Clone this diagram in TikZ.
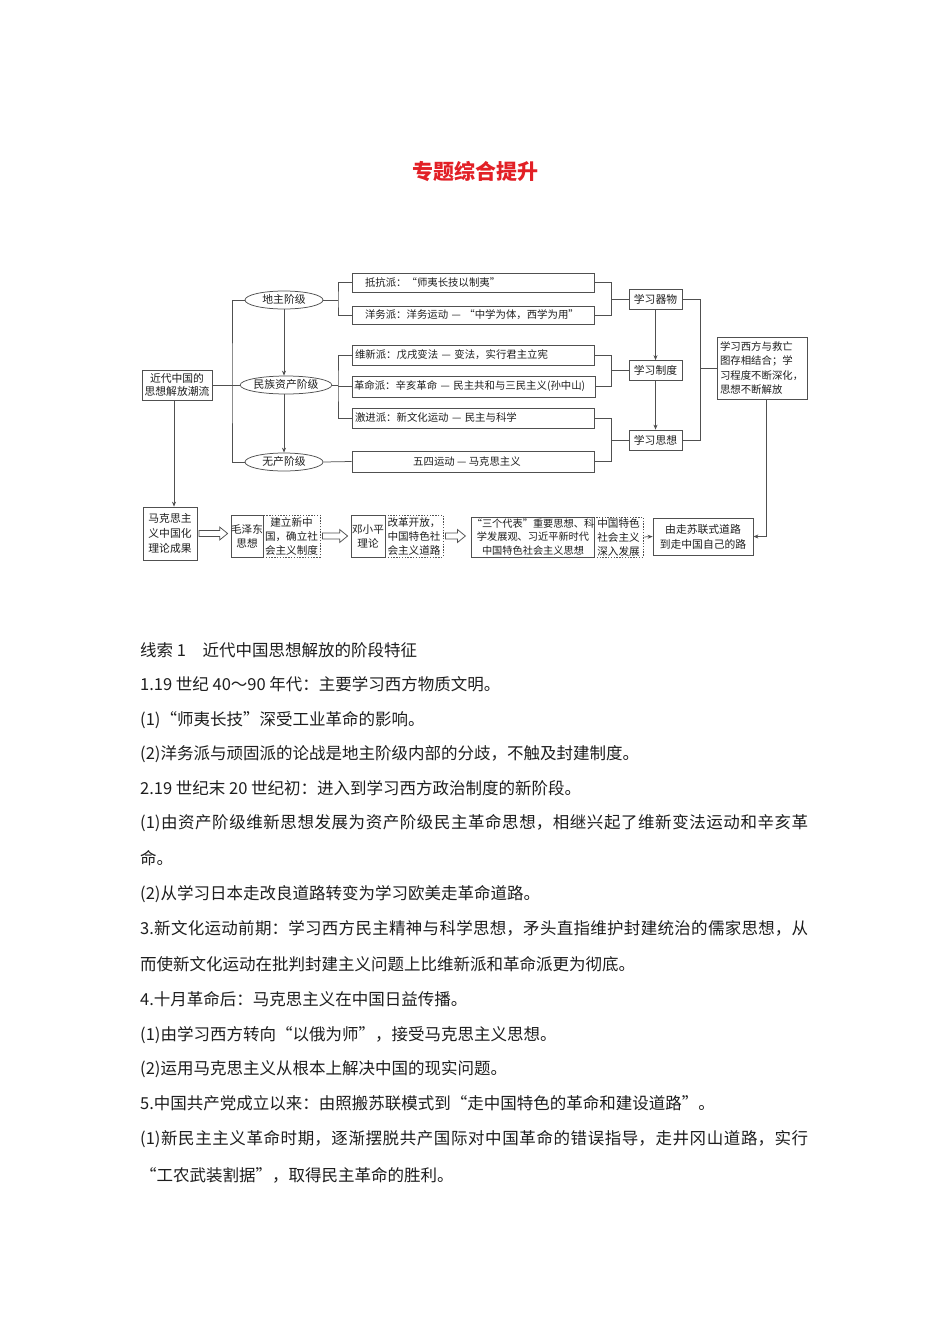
\documentclass[tikz,border=0pt]{standalone}
\usepackage{fontspec}
\setmainfont{Noto Sans CJK SC}
\usetikzlibrary{arrows.meta,shapes.geometric,calc}
\XeTeXlinebreaklocale "zh"
\XeTeXlinebreakskip=0pt plus 4pt
\definecolor{lc}{RGB}{80,80,80}
\definecolor{tc}{RGB}{30,30,30}
\definecolor{titlered}{RGB}{226,32,38}
\newcommand\fullline[1]{\parbox[b]{668pt}{\parfillskip=0pt\relax #1}}
\tikzset{
  ln/.style={draw=lc, line width=0.75pt},
  arr/.style={ln, -{Stealth[length=5pt,width=4pt]}},
  bx/.style={draw=lc, line width=0.75pt, rectangle, inner ysep=0pt, text=tc, font=\fontsize{10.4}{12}\selectfont},
  lb/.style={bx, minimum width=53pt, minimum height=20pt, inner xsep=0pt, font=\fontsize{10.8}{12}\selectfont},
  el/.style={ellipse, draw=lc, line width=0.75pt, inner sep=0pt, text height=8pt, text depth=1pt, text=tc, font=\fontsize{10.8}{12}\selectfont, minimum height=18pt},
  mb/.style={bx, inner xsep=0pt, align=center, font=\fontsize{10.6}{14}\selectfont},
  db/.style={mb, draw=lc, dash pattern=on 1.4pt off 1.4pt},
  bt/.style={anchor=base west, inner sep=0pt, text=tc, font=\fontsize{16.5}{20}\selectfont},
}
% hollow block arrow between two anchors
\newcommand\blockarrow[2]{%
  \draw[ln, line join=miter] let \p1=(#1), \p2=(#2) in
    (\x1,\y1+3pt) -- (\x2-8pt,\y1+3pt) -- (\x2-8pt,\y1+6.5pt) -- (\x2,\y1)
    -- (\x2-8pt,\y1-6.5pt) -- (\x2-8pt,\y1-3pt) -- (\x1,\y1-3pt) -- cycle;}
\begin{document}
\begin{tikzpicture}[x=1pt,y=-1pt]
\useasboundingbox[fill=white] (0,0) rectangle (950,1344);

% title
\node (title) at (475,171) [font=\fontsize{21}{24}\selectfont\bfseries, text=titlered] {专题综合提升};

% root and ellipses
\node (root) at (177,385) [bx, minimum width=70pt, minimum height=30pt, inner xsep=0pt, align=center, font=\fontsize{10.8}{13}\selectfont] {近代中国的\\思想解放潮流};
\node (e1) at (284,300) [el, minimum width=78pt] {地主阶级};
\node (e2) at (286,385) [el, minimum width=82pt] {民族资产阶级};
\node (e3) at (284,462) [el, minimum width=78pt] {无产阶级};

% branch boxes
\node (b1) at (473,282.5) [bx, minimum height=19pt, inner xsep=13pt, text width=216pt, align=left] {抵抗派：“师夷长技以制夷”};
\node (b2) at (473,315) [bx, minimum height=18pt, inner xsep=13pt, text width=216pt, align=left] {洋务派：洋务运动 — “中学为体，西学为用”};
\node (b3) at (473,355) [bx, minimum height=20pt, inner xsep=3pt, text width=236pt, align=left] {维新派：戊戌变法 — 变法，实行君主立宪};
\node (b4) at (473.5,386.5) [bx, minimum height=21pt, inner xsep=2pt, text width=239pt, align=left] {革命派：辛亥革命 — 民主共和与三民主义(孙中山)};
\node (b5) at (473,418) [bx, minimum height=20pt, inner xsep=3pt, text width=236pt, align=left] {激进派：新文化运动 — 民主与科学};
\node (b6) at (473,461.5) [bx, minimum height=21pt, inner xsep=0pt, minimum width=242pt] {\hspace{-12pt}五四运动 — 马克思主义};

% learning boxes
\node (l1) at (655.5,299) [lb] {学习器物};
\node (l2) at (655.5,370.5) [lb] {学习制度};
\node (l3) at (655.5,440) [lb] {学习思想};

% summary
\node (sum) at (762,368) [bx, minimum width=90pt, minimum height=62pt, inner xsep=3pt, text width=84pt, align=left, font=\fontsize{10.4}{14.5}\selectfont] {学习西方与救亡\\图存相结合；学\\习程度不断深化，\\思想不断解放};

% bottom row
\node (m1) at (170,533.5) [mb, minimum width=54pt, minimum height=53pt, font=\fontsize{10.8}{15}\selectfont] {马克思主\\义中国化\\理论成果};
\node (a1) at (247,536) [mb, minimum width=32pt, minimum height=42pt] {毛泽东\\思想};
\node (a1d) at (291.5,536) [db, minimum width=57pt, minimum height=42pt] {建立新中\\国，确立社\\会主义制度};
\node (bb) at (368,536) [mb, minimum width=34pt, minimum height=42pt] {邓小平\\理论};
\node (bbd) at (414,536) [db, minimum width=58pt, minimum height=42pt] {改革开放，\\中国特色社\\会主义道路};
\node (c1) at (533,537) [mb, minimum width=122pt, minimum height=40pt, font=\fontsize{10.2}{13.5}\selectfont] {“三个代表”重要思想、科\\学发展观、习近平新时代\\中国特色社会主义思想};
\node (c1d) at (618.5,537) [db, minimum width=49pt, minimum height=40pt] {中国特色\\社会主义\\深入发展};
\node (fin) at (703,536.5) [mb, minimum width=100pt, minimum height=37pt, font=\fontsize{10.8}{15}\selectfont] {由走苏联式道路\\到走中国自己的路};

% helper coordinates
\coordinate (r0) at (232,385);
\coordinate (k1) at (338,300);
\coordinate (k2) at (338,385);
\coordinate (q1) at (611,299);
\coordinate (q2) at (611,370.5);
\coordinate (q3) at (611,440);
\coordinate (p) at (700,368);
\coordinate (s) at (766,536.5);
\coordinate (rd) at (174,450);

% root bracket
\draw[ln] (root.east) -- (e2.west);
\draw[ln] (e1.west) -| (r0) |- (e3.west);
% ellipse arrows
\draw[arr] (e1.south) -- (e1.south |- e2.north);
\draw[arr] (e2.south -| e1.south) -- (e3.north);
% ellipse to branch brackets
\draw[ln] (e1.east) -- (k1);
\draw[ln] (b1.west) -| (k1) |- (b2.west);
\draw[ln] (e2.east) -- (k2);
\draw[ln] (b3.west) -| (k2) |- (b5.west);
\draw[ln] (k2 |- b4.west) -- (b4.west);
\draw[ln] (e3.east) -- (b6.west);
% branch to learning brackets
\draw[ln] (b1.east) -- (b1.east -| q1) -- (b2.east -| q1) -- (b2.east);
\draw[ln] (q1) -- (l1.west);
\draw[ln] (b3.east) -- (b3.east -| q2) -- (b4.east -| q2) -- (b4.east);
\draw[ln] (q2) -- (l2.west);
\draw[ln] (b5.east) -- (b5.east -| q3) -- (b6.east -| q3) -- (b6.east);
\draw[ln] (q3) -- (l3.west);
% learning arrows
\draw[arr] (l1.south) -- (l2.north);
\draw[arr] (l2.south) -- (l3.north);
% learning to summary
\draw[ln] (l1.east) -- (l1.east -| p) -- (l3.east -| p) -- (l3.east);
\draw[ln] (p) -- (sum.west);
% summary to final
\draw[arr] (sum.south -| s) -- (s) -- (fin.east);
% root down
\draw[arr] (root.south -| rd) -- (m1.north -| rd);
% bottom arrows
\blockarrow{$(m1.east)+(1.5,0)$}{$(m1.east -| a1.west)+(-3,0)$}
\blockarrow{$(a1d.east)+(2,0)$}{$(a1d.east -| bb.west)+(-3,0)$}
\blockarrow{$(bbd.east)+(2,0)$}{$(bbd.east -| c1.west)+(-6,0)$}
\draw[arr, shorten <=1pt] (c1d.east) -- (fin.west);

% body text
\node (t1) at (140,656) [bt] {线索 1\hspace{1em}近代中国思想解放的阶段特征};
\node (t2) at (140,690) [bt] {1.19 世纪 40～90 年代：主要学习西方物质文明。};
\node (t3) at (140,725) [bt] {(1)“师夷长技”深受工业革命的影响。};
\node (t4) at (140,759) [bt] {(2)洋务派与顽固派的论战是地主阶级内部的分歧，不触及封建制度。};
\node (t5) at (140,794) [bt] {2.19 世纪末 20 世纪初：进入到学习西方政治制度的新阶段。};
\node (t6) at (140,828) [bt] {\fullline{(1)由资产阶级维新思想发展为资产阶级民主革命思想，相继兴起了维新变法运动和辛亥革}};
\node (t7) at (140,864) [bt] {命。};
\node (t8) at (140,899) [bt] {(2)从学习日本走改良道路转变为学习欧美走革命道路。};
\node (t9) at (140,934) [bt] {\fullline{3.新文化运动前期：学习西方民主精神与科学思想，矛头直指维护封建统治的儒家思想，从}};
\node (t10) at (140,970) [bt] {而使新文化运动在批判封建主义问题上比维新派和革命派更为彻底。};
\node (t11) at (140,1005) [bt] {4.十月革命后：马克思主义在中国日益传播。};
\node (t12) at (140,1040) [bt] {(1)由学习西方转向“以俄为师”，接受马克思主义思想。};
\node (t13) at (140,1074) [bt] {(2)运用马克思主义从根本上解决中国的现实问题。};
\node (t14) at (140,1109) [bt] {5.中国共产党成立以来：由照搬苏联模式到“走中国特色的革命和建设道路”。};
\node (t15) at (140,1144) [bt] {\fullline{(1)新民主主义革命时期，逐渐摆脱共产国际对中国革命的错误指导，走井冈山道路，实行}};
\node (t16) at (140,1181) [bt] {“工农武装割据”，取得民主革命的胜利。};
\end{tikzpicture}
\end{document}
